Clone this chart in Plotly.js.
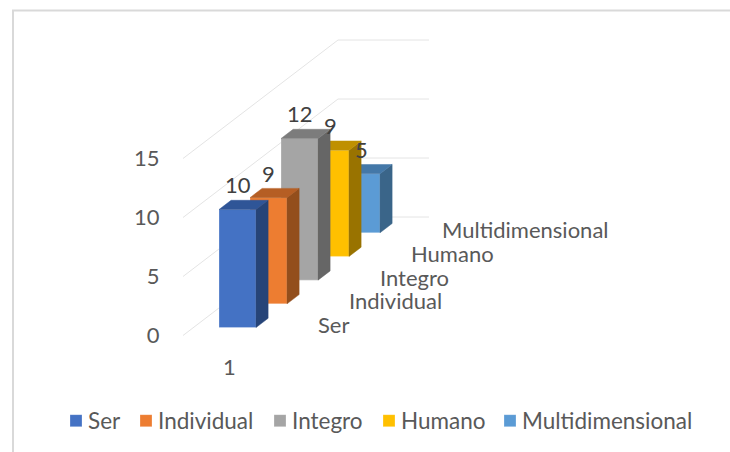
<!DOCTYPE html>
<html>
<head>
<meta charset="utf-8">
<script src="https://cdn.plot.ly/plotly-3.0.1.min.js"></script>
<style>html,body{margin:0;padding:0;background:#fff}#c{width:730px;height:452px}</style>
</head>
<body>
<div id="c"></div>
<script>
// Data
const categories = ["1"];
const seriesNames = ["Ser", "Individual", "Integro", "Humano", "Multidimensional"];
const seriesValues = [10, 9, 12, 9, 5];
const tickValues = [0, 5, 10, 15];
// Styles
const frontColors = ["#4472C4", "#ED7D31", "#A5A5A5", "#FFC000", "#5B9BD5"];
const topColors = ["#2F5597", "#B55E24", "#7C7C7C", "#BF9000", "#4478A8"];
const sideColors = ["#264478", "#934E1C", "#666666", "#997300", "#3A6589"];
const legendTextX = [88, 158, 292, 401, 522];

// Oblique projection of the 3-D chart box onto the 2-D axes
const W = 730, H = 452, X0 = 183, Y0 = 335.5, PXV = 11.8, DX = 31, DY = 23.7;
const floorW = 91, barL = 25.6, barW = 37, depthStart = 0.336, depthLen = 0.39;
const px = (w, d) => X0 + w + DX * d;
const vy = (v, d) => v + DY * d / PXV;           // value → y axis value at depth d
const pageY = py => (Y0 - py) / PXV;
const paperX = p => (p - X0) / (W - X0);
const font = "Lato, Carlito, sans-serif";
const labelSize = 22;

const traces = [];
const n = seriesValues.length;
const xRange = [X0, W], yRange = [pageY(H), pageY(0)];
const layout = {
  width: W, height: H,
  margin: {l: X0, r: 0, t: 0, b: 0, pad: 0, autoexpand: false},
  paper_bgcolor: "#fff", plot_bgcolor: "rgba(0,0,0,0)",
  barmode: "overlay",
  showlegend: true
};

// One overlaid subplot per series, back series first, so each series' faces stack correctly
for (let i = n - 1; i >= 0; i--) {
  const k = n - i;                     // axis number: 1 = rearmost series
  const xa = k === 1 ? "x" : "x" + k, ya = k === 1 ? "y" : "y" + k;
  const d0 = i + depthStart, d1 = d0 + depthLen, v = seriesValues[i];
  const l = barL, r = barL + barW;
  traces.push({type: "bar", name: seriesNames[i], xaxis: xa, yaxis: ya,
    x: [px(barL + barW / 2, d0)], y: [v], base: [vy(0, d0)], width: [barW],
    marker: {color: frontColors[i], line: {color: "rgba(255,255,255,0.25)", width: 1}},
    legend: i === 0 ? "legend" : "legend" + (i + 1)});
  traces.push({type: "scatter", mode: "lines", fill: "toself", showlegend: false, hoverinfo: "skip",
    xaxis: xa, yaxis: ya,
    x: [px(r, d0), px(r, d1), px(r, d1), px(r, d0), px(r, d0)],
    y: [vy(0, d0), vy(0, d1), vy(v, d1), vy(v, d0), vy(0, d0)],
    fillcolor: sideColors[i], line: {color: sideColors[i], width: 0.5}});
  traces.push({type: "scatter", mode: "lines", fill: "toself", showlegend: false, hoverinfo: "skip",
    xaxis: xa, yaxis: ya,
    x: [px(l, d0), px(r, d0), px(r, d1), px(l, d1), px(l, d0)],
    y: [vy(v, d0), vy(v, d0), vy(v, d1), vy(v, d1), vy(v, d0)],
    fillcolor: topColors[i], line: {color: topColors[i], width: 0.5}});
  if (k === 1) {
    layout.xaxis = {range: xRange, visible: false, fixedrange: true};
    layout.yaxis = {range: yRange, fixedrange: true, showgrid: false, zeroline: false, showline: false,
      tickmode: "array", tickvals: tickValues, ticks: "outside", ticklen: 18, tickcolor: "rgba(0,0,0,0)",
      automargin: false, tickfont: {family: font, size: labelSize, color: "#595959"}};
  } else {
    layout["xaxis" + k] = {range: xRange, visible: false, fixedrange: true, overlaying: "x", anchor: ya};
    layout["yaxis" + k] = {range: yRange, visible: false, fixedrange: true, overlaying: "y", anchor: xa};
  }
}

// Diagonal + back gridlines, under everything
layout.shapes = [];
tickValues.forEach(t => {
  const pts = [[px(0, 0), vy(t, 0)], [px(0, 5), vy(t, 5)], [px(floorW, 5), vy(t, 5)]];
  layout.shapes.push({type: "path", xref: "x", yref: "y", layer: "below",
    path: "M" + pts.map(p => p.join(",")).join("L"), line: {color: "#E4E4E4", width: 1}});
});
// Page frame
layout.shapes.push(
  {type: "line", xref: "paper", yref: "paper", x0: paperX(13), x1: paperX(13), y0: 0, y1: 1 - 10 / H,
    line: {color: "#D9D9D9", width: 2}},
  {type: "line", xref: "paper", yref: "paper", x0: paperX(12), x1: paperX(730), y0: 1 - 10.5 / H, y1: 1 - 10.5 / H,
    line: {color: "#D9D9D9", width: 2}});

const annotations = [];
// Data labels
seriesValues.forEach((v, i) => {
  const dm = i + depthStart + depthLen / 2;
  annotations.push({x: px(barL + barW / 2, dm) - 6, y: vy(v, dm) + 20 / PXV, text: String(v),
    showarrow: false, xanchor: "center", yanchor: "middle", font: {family: font, size: labelSize, color: "#404040"}});
});
// Depth (series) axis labels
seriesNames.forEach((s, i) => {
  annotations.push({x: px(117, i + 0.5), y: vy(0, i + 0.5) - 1 / PXV, text: s,
    showarrow: false, xanchor: "left", yanchor: "middle", font: {family: font, size: labelSize, color: "#595959"}});
});
// Category label
categories.forEach(c => {
  annotations.push({x: 229, y: pageY(366), text: c, showarrow: false,
    xanchor: "center", yanchor: "middle", font: {family: font, size: labelSize, color: "#595959"}});
});
layout.annotations = annotations;

legendTextX.forEach((tx, i) => {
  layout[i === 0 ? "legend" : "legend" + (i + 1)] = {
    x: paperX(tx - 40), y: 1 - 421 / H, xanchor: "left", yanchor: "middle",
    bgcolor: "rgba(0,0,0,0)", borderwidth: 0, font: {family: font, size: 22.5, color: "#595959"}};
});

Plotly.newPlot("c", traces, layout, {displayModeBar: false, staticPlot: true}).then(() => {
  // Legend swatches sit right next to their text in the reference, and are a little larger
  document.querySelectorAll("#c .infolayer .traces .layers").forEach(g => g.setAttribute("transform", "translate(8,0)"));
  document.querySelectorAll("#c .infolayer .traces path.legendbar, #c .infolayer .traces .legendbar path").forEach(p => p.setAttribute("d", "M7,7H-7V-7H7Z"));
});
</script>
</body>
</html>
